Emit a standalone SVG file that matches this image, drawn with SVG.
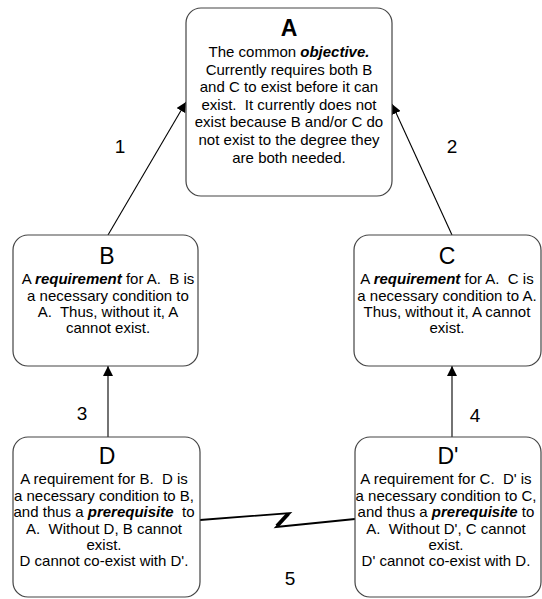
<svg xmlns="http://www.w3.org/2000/svg" width="542" height="599" viewBox="0 0 542 599">
<style>
.box{fill:#fff;stroke:#444;stroke-width:1.2}
.t{font-family:"Liberation Sans",Arial,sans-serif;font-size:15px;fill:#000;text-anchor:middle}
.h{font-family:"Liberation Sans",Arial,sans-serif;font-size:23px;fill:#000;text-anchor:middle}
.hb{font-weight:bold}
.bi{font-weight:bold;font-style:italic}
.lbl{font-family:"Liberation Sans",Arial,sans-serif;font-size:19px;fill:#000;text-anchor:middle}
.c{stroke:#000;stroke-width:1.1;fill:none}
</style>
<defs>
<marker id="ah" viewBox="0 0 10 10" refX="10" refY="5" markerWidth="10" markerHeight="10" markerUnits="userSpaceOnUse" orient="auto">
<path d="M0,0 L10,5 L0,10 z" fill="#000"/>
</marker>
</defs>
<g id="connectors">
<line class="c" x1="108" y1="235" x2="186" y2="102" marker-end="url(#ah)"/>
<line class="c" x1="452" y1="235" x2="392" y2="104" marker-end="url(#ah)"/>
<line class="c" x1="108" y1="437" x2="108" y2="366" marker-end="url(#ah)"/>
<line class="c" x1="452" y1="437" x2="452" y2="366" marker-end="url(#ah)"/>
<path d="M200,520 L290,513 L276,527 L355,519" stroke="#000" stroke-width="1.8" stroke-linejoin="miter" stroke-miterlimit="10" fill="none"/>
<path d="M288,514 L277,526" stroke="#000" stroke-width="4" fill="none"/>
<text class="lbl" x="120" y="153">1</text>
<text class="lbl" x="452" y="153">2</text>
<text class="lbl" x="82" y="420">3</text>
<text class="lbl" x="475" y="422">4</text>
<text class="lbl" x="290" y="585">5</text>
</g>
<g id="A">
<rect class="box" x="186" y="8" width="206" height="188" rx="15"/>
<text class="h hb" x="289" y="36">A</text>
<text class="t" x="289" y="57" xml:space="preserve">The common <tspan class="bi">objective.</tspan></text>
<text class="t" x="289" y="75">Currently requires both B</text>
<text class="t" x="289" y="92">and C to exist before it can</text>
<text class="t" x="289" y="110" xml:space="preserve">exist.  It currently does not</text>
<text class="t" x="289" y="127">exist because B and/or C do</text>
<text class="t" x="289" y="145">not exist to the degree they</text>
<text class="t" x="289" y="163">are both needed.</text>
</g>
<g id="B">
<rect class="box" x="13" y="235" width="185" height="131" rx="15"/>
<text class="h" x="107" y="264">B</text>
<text class="t" x="108" y="284" xml:space="preserve">A <tspan class="bi">requirement</tspan> for A.  B is</text>
<text class="t" x="108" y="301">a necessary condition to</text>
<text class="t" x="108" y="317" xml:space="preserve">A.  Thus, without it, A</text>
<text class="t" x="108" y="333">cannot exist.</text>
</g>
<g id="C">
<rect class="box" x="354" y="235" width="187" height="131" rx="15"/>
<text class="h" x="447" y="264">C</text>
<text class="t" x="447" y="284" xml:space="preserve">A <tspan class="bi">requirement</tspan> for A.  C is</text>
<text class="t" x="447" y="301">a necessary condition to A.</text>
<text class="t" x="447" y="317">Thus, without it, A cannot</text>
<text class="t" x="447" y="333">exist.</text>
</g>
<g id="D">
<rect class="box" x="13" y="437" width="187" height="160" rx="15"/>
<text class="h" x="107" y="464">D</text>
<text class="t" x="104" y="484" xml:space="preserve">A requirement for B.  D is</text>
<text class="t" x="104" y="501">a necessary condition to B,</text>
<text class="t" x="104" y="517" xml:space="preserve">and thus a <tspan class="bi">prerequisite</tspan>  to</text>
<text class="t" x="104" y="534" xml:space="preserve">A.  Without D, B cannot</text>
<text class="t" x="104" y="550">exist.</text>
<text class="t" x="104" y="566">D cannot co-exist with D'.</text>
</g>
<g id="Dprime">
<rect class="box" x="355" y="437" width="186" height="160" rx="15"/>
<text class="h" x="448" y="464">D'</text>
<text class="t" x="446" y="484" xml:space="preserve">A requirement for C.  D' is</text>
<text class="t" x="446" y="501">a necessary condition to C,</text>
<text class="t" x="446" y="517" xml:space="preserve">and thus a <tspan class="bi">prerequisite</tspan> to</text>
<text class="t" x="446" y="534" xml:space="preserve">A.  Without D', C cannot</text>
<text class="t" x="446" y="550">exist.</text>
<text class="t" x="446" y="566">D' cannot co-exist with D.</text>
</g>
</svg>
